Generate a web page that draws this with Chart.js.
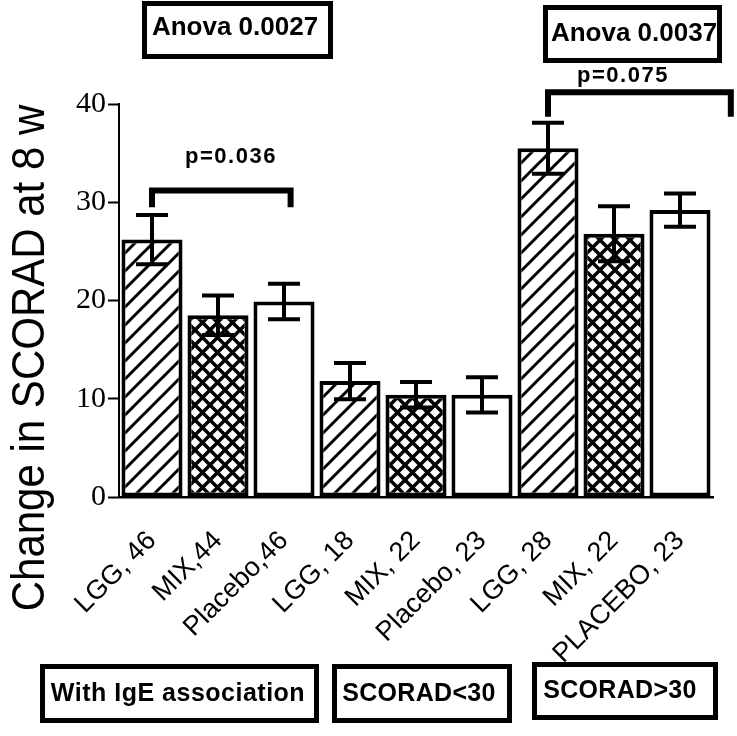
<!DOCTYPE html>
<html>
<head>
<meta charset="utf-8">
<script src="https://cdn.jsdelivr.net/npm/chart.js@4.4.1/dist/chart.umd.min.js"></script>
<style>
    body { margin: 0; background: #fff; }
    canvas { display: block; }
</style>
</head>
<body>
<canvas id="scoradChart" width="737" height="736"></canvas>
<script>
// Valores
const categories = ['LGG, 46', 'MIX,44', 'Placebo,46', 'LGG, 18', 'MIX, 22', 'Placebo, 23', 'LGG, 28', 'MIX, 22', 'PLACEBO, 23'];
const meanChange = [26.2, 18.5, 19.9, 11.8, 10.4, 10.4, 35.5, 26.8, 29.2];
const semChange = [2.5, 2.0, 1.8, 1.85, 1.3, 1.8, 2.6, 2.8, 1.7];
const fillKinds = ['hatch', 'cross', 'plain', 'hatch', 'cross', 'plain', 'hatch', 'cross', 'plain'];
const yTicks = [0, 10, 20, 30, 40];
const groupLabels = ['With IgE association', 'SCORAD<30', 'SCORAD>30'];
const anovaLabels = ['Anova 0.0027', 'Anova 0.0037'];
const pLabels = ['p=0.036', 'p=0.075'];
// corchetes: categoría inicial, final y altura en unidades del eje
const bracketFrom = [0, 6];
const bracketTo = [2.1, 8.77];
const bracketTop = [31.2, 41.2];
const bracketLeg = [29.5, 38.7];

const axisTitle = 'Change in SCORAD at 8 w';
const sansFont = "'Liberation Sans', Arial, sans-serif";
const serifFont = "'Liberation Serif', 'Times New Roman', serif";

let scoradChart = null;

// Tramas en blanco y negro
function makePattern(kind) {
    const c = document.createElement('canvas');
    const size = kind === 'hatch' ? 18 : 15;
    c.width = size;
    c.height = size;
    const g = c.getContext('2d');
    g.fillStyle = '#fff';
    g.fillRect(0, 0, size, size);
    if (kind === 'plain') return g.createPattern(c, 'repeat');
    g.strokeStyle = '#000';
    g.lineWidth = kind === 'hatch' ? 3 : 3.5;
    g.beginPath();
    for (let k = -1; k <= 1; k++) {
        g.moveTo(-size + k * size, size * 2);
        g.lineTo(size * 2 + k * size, -size);
        if (kind === 'cross') {
            g.moveTo(-size + k * size, -size);
            g.lineTo(size * 2 + k * size, size * 2);
        }
    }
    g.stroke();
    return g.createPattern(c, 'repeat');
}

function drawBox(ctx, x1, y1, x2, y2, text, cx, cy, size, spacing) {
    ctx.save();
    ctx.lineWidth = 5;
    ctx.strokeStyle = '#000';
    ctx.strokeRect(x1 + 2.5, y1 + 2.5, x2 - x1 - 5, y2 - y1 - 5);
    ctx.fillStyle = '#000';
    ctx.font = 'bold ' + size + 'px ' + sansFont;
    ctx.letterSpacing = spacing + 'px';
    ctx.textAlign = 'center';
    ctx.textBaseline = 'middle';
    ctx.fillText(text, cx, cy);
    ctx.restore();
}

// Barras de error, corchetes, títulos y cajas
const annotationPlugin = {
    id: 'annotations',
    afterDatasetsDraw(chart) {
        const ctx = chart.ctx;
        const x = chart.scales.x;
        const y = chart.scales.y;
        ctx.save();
        ctx.strokeStyle = '#000';
        ctx.lineWidth = 4;
        ctx.lineCap = 'butt';
        meanChange.forEach((m, i) => {
            const px = x.getPixelForValue(i);
            const top = y.getPixelForValue(m + semChange[i]);
            const bot = y.getPixelForValue(m - semChange[i]);
            ctx.beginPath();
            ctx.moveTo(px, top);
            ctx.lineTo(px, bot);
            ctx.moveTo(px - 16, top);
            ctx.lineTo(px + 16, top);
            ctx.moveTo(px - 16, bot);
            ctx.lineTo(px + 16, bot);
            ctx.stroke();
        });
        ctx.restore();
    },
    afterDraw(chart) {
        const ctx = chart.ctx;
        const x = chart.scales.x;
        const y = chart.scales.y;

        // corchetes de comparación
        ctx.save();
        ctx.strokeStyle = '#000';
        ctx.lineWidth = 6;
        ctx.lineJoin = 'miter';
        bracketFrom.forEach((from, i) => {
            const x1 = x.getPixelForValue(from);
            const x2 = x.getPixelForValue(bracketTo[i]);
            const yt = y.getPixelForValue(bracketTop[i]);
            const yl = y.getPixelForValue(bracketLeg[i]);
            ctx.beginPath();
            ctx.moveTo(x1, yl);
            ctx.lineTo(x1, yt);
            ctx.lineTo(x2, yt);
            ctx.lineTo(x2, yl);
            ctx.stroke();
        });
        ctx.fillStyle = '#000';
        ctx.font = 'bold 22px ' + sansFont;
        ctx.letterSpacing = '1.5px';
        ctx.textAlign = 'center';
        ctx.textBaseline = 'middle';
        ctx.fillText(pLabels[0], 231, 157);
        ctx.fillText(pLabels[1], 623, 76);
        ctx.restore();

        // título del eje Y
        ctx.save();
        ctx.translate(31, 358);
        ctx.rotate(-Math.PI / 2);
        ctx.scale(1, 1.12);
        ctx.fillStyle = '#000';
        ctx.font = '42px ' + sansFont;
        ctx.textAlign = 'center';
        ctx.textBaseline = 'middle';
        ctx.fillText(axisTitle, 0, 0);
        ctx.restore();

        // cajas de Anova y de grupos
        drawBox(ctx, 142, 1, 333, 59, anovaLabels[0], 235, 28, 26, 0);
        drawBox(ctx, 543, 5, 722, 63, anovaLabels[1], 634, 34, 26, 0);
        drawBox(ctx, 40, 664, 319, 723, groupLabels[0], 178, 694, 25, 0.5);
        drawBox(ctx, 332, 664, 512, 723, groupLabels[1], 419, 694, 25, 0.3);
        drawBox(ctx, 532, 662, 718, 720, groupLabels[2], 620, 691, 25, 0.3);
    }
};

function generateChart() {
    Chart.defaults.color = '#000';
    Chart.defaults.font.family = sansFont;

    const canvas = document.getElementById('scoradChart');
    const ctx = canvas.getContext('2d');

    scoradChart = new Chart(ctx, {
        type: 'bar',
        data: {
            labels: categories,
            datasets: [{
                data: meanChange,
                backgroundColor: fillKinds.map(makePattern),
                borderColor: '#000',
                borderWidth: 4,
                borderSkipped: false,
                barPercentage: 0.925,
                categoryPercentage: 1
            }]
        },
        options: {
            responsive: false,
            devicePixelRatio: 1,
            animation: false,
            layout: {
                padding: { top: 104, right: 24, left: 0, bottom: 0 }
            },
            plugins: {
                legend: { display: false },
                tooltip: { enabled: false }
            },
            scales: {
                x: {
                    afterFit: (scale) => { scale.height = 239; },
                    grid: { display: false, drawTicks: false },
                    border: { display: true, color: '#000', width: 2.5 },
                    ticks: {
                        color: '#000',
                        font: { family: sansFont, size: 27 },
                        minRotation: 45,
                        maxRotation: 45,
                        padding: 28,
                        autoSkip: false
                    }
                },
                y: {
                    min: 0,
                    max: 40,
                    afterFit: (scale) => { scale.width = 119; },
                    afterBuildTicks: (scale) => {
                        scale.ticks = yTicks.map(v => ({ value: v }));
                    },
                    grid: {
                        drawOnChartArea: false,
                        drawTicks: true,
                        tickLength: 11,
                        tickWidth: 2,
                        tickColor: '#000'
                    },
                    border: { display: true, color: '#000', width: 2 },
                    ticks: {
                        color: '#000',
                        font: { family: serifFont, size: 30 },
                        padding: 2
                    }
                }
            }
        },
        plugins: [annotationPlugin]
    });
    return scoradChart;
}

generateChart();
</script>
</body>
</html>
